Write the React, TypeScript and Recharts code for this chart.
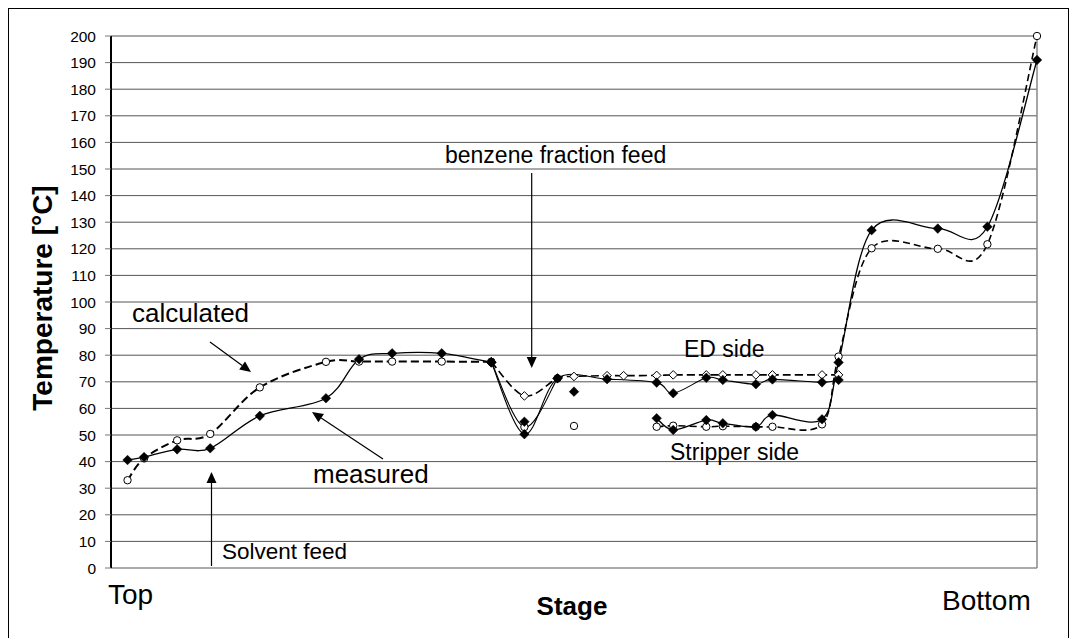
import React from "react";
import { LineChart, Line, XAxis, YAxis, CartesianGrid, ReferenceLine } from "recharts";

// column profile: stage number (1 = top) and temperature in °C
const mainStages = [1, 2, 4, 6, 9, 13, 15, 17, 20, 23];
const mainMeasured = [40.6, 41.7, 44.6, 45.0, 57.2, 63.8, 78.5, 80.7, 80.7, 77.3];
const mainCalculated = [33.0, 41.2, 48.0, 50.4, 67.9, 77.5, 77.6, 77.6, 77.6, 77.5];

const dipStages = [23, 25, 27];
const dipCalculated = [77.5, 53.0, 71.3];

const edStages = [23, 25, 27, 30, 33, 34, 36, 37, 39, 40, 43, 44];
const edMeasured = [77.3, 50.3, 71.3, 71.0, 69.7, 65.7, 71.5, 70.7, 69.1, 70.9, 69.8, 70.7];
const edCalcStages = [23, 25, 27, 28, 30, 31, 33, 34, 36, 37, 39, 40, 43, 44];
const edCalculated = [77.5, 64.7, 71.3, 72.0, 72.3, 72.3, 72.4, 72.6, 72.6, 72.6, 72.6, 72.6, 72.6, 72.6];

const stripStages = [33, 34, 36, 37, 39, 40, 43, 44, 46, 50, 53, 56];
const stripMeasured = [56.3, 51.9, 55.6, 54.4, 53.1, 57.5, 55.9, 77.3, 127.0, 127.6, 128.3, 191.0];
const stripCalculated = [53.1, 53.5, 53.1, 53.3, 53.1, 53.1, 54.0, 79.5, 120.2, 120.0, 121.7, 200.0];

const loneMeasuredStages = [25, 28];
const loneMeasured = [55.0, 66.3];
const loneCalcStages = [28];
const loneCalculated = [53.4];

const yTicks = [0, 10, 20, 30, 40, 50, 60, 70, 80, 90, 100, 110, 120, 130, 140, 150, 160, 170, 180, 190, 200];

const zip = (stages: number[], temps: number[]) => stages.map((s, i) => ({ stage: s, temp: temps[i] }));

const F = "Arial, 'Liberation Sans', sans-serif";

// Excel-like smoothed line (Catmull-Rom as bezier)
function excelSmooth(context: any) {
  let pts: number[][] = [];
  return {
    areaStart() {},
    areaEnd() {},
    lineStart() {
      pts = [];
    },
    point(x: number, y: number) {
      pts.push([+x, +y]);
    },
    lineEnd() {
      const n = pts.length;
      if (!n) return;
      context.moveTo(pts[0][0], pts[0][1]);
      for (let i = 0; i < n - 1; i++) {
        const p0 = pts[Math.max(i - 1, 0)];
        const p1 = pts[i];
        const p2 = pts[i + 1];
        const p3 = pts[Math.min(i + 2, n - 1)];
        context.bezierCurveTo(
          p1[0] + (p2[0] - p0[0]) / 6,
          p1[1] + (p2[1] - p0[1]) / 6,
          p2[0] - (p3[0] - p1[0]) / 6,
          p2[1] - (p3[1] - p1[1]) / 6,
          p2[0],
          p2[1]
        );
      }
    },
  };
}

const filledDiamond = (p: any) => {
  if (p.cx == null || p.cy == null) return <g key={`fd-${p.index}`} />;
  const { cx, cy } = p;
  return (
    <path
      key={`fd-${p.index}`}
      d={`M${cx} ${cy - 4.8}L${cx + 4.8} ${cy}L${cx} ${cy + 4.8}L${cx - 4.8} ${cy}Z`}
      fill="#000"
      stroke="#000"
      strokeWidth={0.5}
    />
  );
};

const openDiamond = (p: any) => {
  if (p.cx == null || p.cy == null) return <g key={`od-${p.index}`} />;
  const { cx, cy } = p;
  return (
    <path
      key={`od-${p.index}`}
      d={`M${cx} ${cy - 4.3}L${cx + 4.3} ${cy}L${cx} ${cy + 4.3}L${cx - 4.3} ${cy}Z`}
      fill="#fff"
      stroke="#000"
      strokeWidth={1}
    />
  );
};

const openCircle = (p: any) => {
  if (p.cx == null || p.cy == null) return <g key={`oc-${p.index}`} />;
  return <circle key={`oc-${p.index}`} cx={p.cx} cy={p.cy} r={3.7} fill="#fff" stroke="#000" strokeWidth={1} />;
};

function Arrow({ x1, y1, x2, y2 }: { x1: number; y1: number; x2: number; y2: number }) {
  const dx = x2 - x1;
  const dy = y2 - y1;
  const len = Math.hypot(dx, dy);
  const ux = dx / len;
  const uy = dy / len;
  const head = 11;
  const half = 5;
  const bx = x2 - ux * head;
  const by = y2 - uy * head;
  return (
    <g>
      <line x1={x1} y1={y1} x2={bx} y2={by} stroke="#000" strokeWidth={1.2} />
      <polygon
        points={`${x2},${y2} ${bx - uy * half},${by + ux * half} ${bx + uy * half},${by - ux * half}`}
        fill="#000"
      />
    </g>
  );
}

export default function App() {
  return (
    <div style={{ position: "absolute", left: 0, top: 0, width: 1071, height: 638, background: "#fff" }}>
      <LineChart width={1071} height={638} margin={{ top: 36, right: 34, bottom: 70, left: 0 }}>
        <CartesianGrid vertical={false} stroke="#555" strokeWidth={1} />
        <XAxis
          type="number"
          dataKey="stage"
          domain={[0, 56]}
          tick={false}
          tickLine={false}
          height={0}
          axisLine={{ stroke: "#000", strokeWidth: 2 }}
        />
        <YAxis
          type="number"
          domain={[0, 200]}
          ticks={yTicks}
          interval={0}
          width={111}
          tickSize={6}
          tickMargin={9}
          tick={{ fontSize: 15.5, fill: "#000", fontFamily: F }}
          tickLine={{ stroke: "#777" }}
          axisLine={{ stroke: "#000", strokeWidth: 2 }}
        />
        <ReferenceLine x={56} stroke="#888" strokeWidth={1.5} />

        <Line data={zip(mainStages, mainCalculated)} dataKey="temp" type={excelSmooth as any} stroke="#000" strokeWidth={2} strokeDasharray="8 4" dot={openCircle} activeDot={false} isAnimationActive={false} />
        <Line data={zip(dipStages, dipCalculated)} dataKey="temp" type={excelSmooth as any} stroke="#000" strokeWidth={1.1} dot={openCircle} activeDot={false} isAnimationActive={false} />
        <Line data={zip(edCalcStages, edCalculated)} dataKey="temp" type={excelSmooth as any} stroke="#000" strokeWidth={1.6} strokeDasharray="8 4" dot={openDiamond} activeDot={false} isAnimationActive={false} />
        <Line data={zip(stripStages, stripCalculated)} dataKey="temp" type={excelSmooth as any} stroke="#000" strokeWidth={1.6} strokeDasharray="7 4" dot={openCircle} activeDot={false} isAnimationActive={false} />
        <Line data={zip(loneCalcStages, loneCalculated)} dataKey="temp" stroke="none" dot={openCircle} activeDot={false} isAnimationActive={false} />

        <Line data={zip(mainStages, mainMeasured)} dataKey="temp" type={excelSmooth as any} stroke="#000" strokeWidth={1.3} dot={filledDiamond} activeDot={false} isAnimationActive={false} />
        <Line data={zip(edStages, edMeasured)} dataKey="temp" type={excelSmooth as any} stroke="#000" strokeWidth={1.1} dot={filledDiamond} activeDot={false} isAnimationActive={false} />
        <Line data={zip(stripStages, stripMeasured)} dataKey="temp" type={excelSmooth as any} stroke="#000" strokeWidth={1.3} dot={filledDiamond} activeDot={false} isAnimationActive={false} />
        <Line data={zip(loneMeasuredStages, loneMeasured)} dataKey="temp" stroke="none" dot={filledDiamond} activeDot={false} isAnimationActive={false} />
      </LineChart>

      <svg
        width={1071}
        height={638}
        style={{ position: "absolute", left: 0, top: 0, pointerEvents: "none" }}
        fontFamily={F}
      >
        <rect x={8.5} y={8.5} width={1060} height={640} fill="none" stroke="#000" strokeWidth={1} />

        <text transform="translate(52,298) rotate(-90)" textAnchor="middle" fontSize={28} fontWeight="bold">
          Temperature [°C]
        </text>
        <text x={572} y={615} textAnchor="middle" fontSize={26} fontWeight="bold">
          Stage
        </text>
        <text x={108} y={604} fontSize={28}>Top</text>
        <text x={942} y={610} fontSize={28}>Bottom</text>

        <text x={132} y={322} fontSize={26}>calculated</text>
        <text x={313} y={483} fontSize={26}>measured</text>
        <text x={445} y={163} fontSize={23}>benzene fraction feed</text>
        <text x={684} y={357} fontSize={23}>ED side</text>
        <text x={670} y={460} fontSize={23}>Stripper side</text>
        <text x={222} y={559} fontSize={22.5}>Solvent feed</text>

        <Arrow x1={210} y1={342} x2={251} y2={372} />
        <Arrow x1={383} y1={459} x2={312} y2={412} />
        <Arrow x1={531.7} y1={173} x2={531.7} y2={368} />
        <Arrow x1={211.5} y1={566} x2={211.5} y2={472} />
      </svg>
    </div>
  );
}
